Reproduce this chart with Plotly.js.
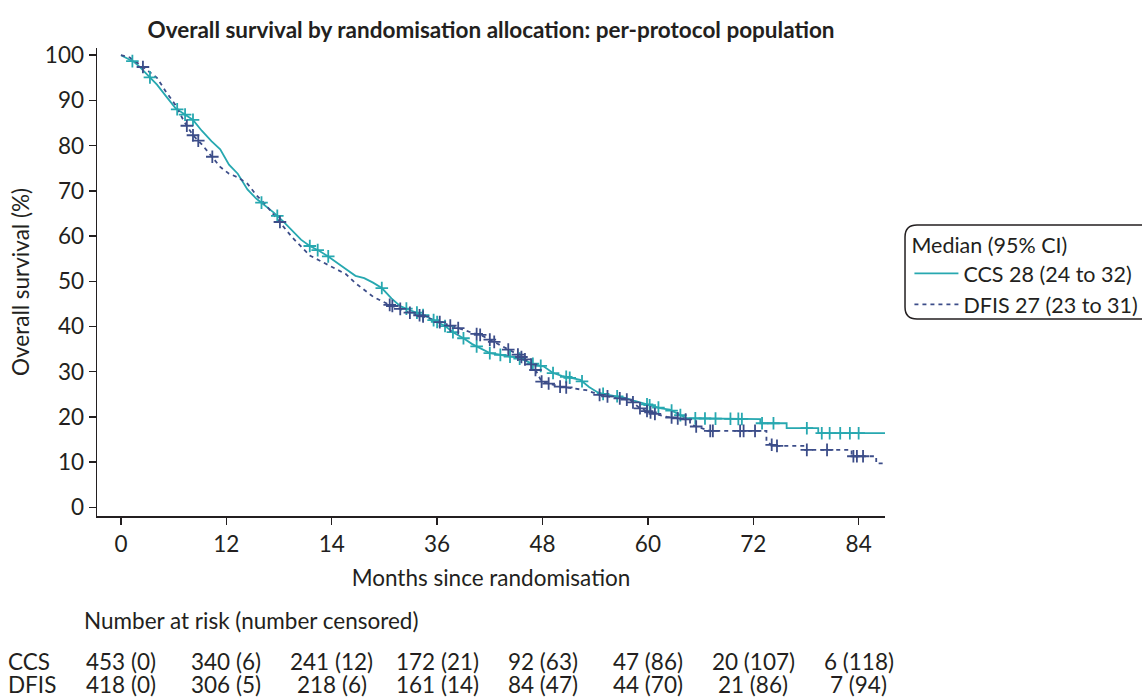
<!DOCTYPE html>
<html>
<head>
<meta charset="utf-8">
<script src="https://cdn.plot.ly/plotly-3.0.1.min.js"></script>
<style>
html,body{margin:0;padding:0;background:#fff;}
#chart{width:1142px;height:697px;}
</style>
</head>
<body>
<div id="chart"></div>
<script>
// ---- data ----
const tickMonths = [0, 12, 24, 36, 48, 60, 72, 84];
const tickLabels = ['0', '12', '14', '36', '48', '60', '72', '84'];

const ccsTime = [0, 1.0, 1.5, 2.1, 3.1, 4.1, 5.1, 6.2, 7.2, 8.2, 9.2, 10.3, 11.3, 12.3, 13.3, 14.4, 15.4, 16.4, 17.4, 18.5, 19.5, 20.5, 21.5, 22.6, 23.6, 24.6, 25.6, 26.7, 27.7, 28.7, 29.7, 30.8, 31.8, 32.8, 33.8, 34.9, 35.9, 36.9, 37.9, 39, 40, 41, 42, 43, 44.1, 45.1, 46.1, 47.1, 48.2, 49.2, 50.2, 51.2, 52.3, 53.3, 54.3, 55.3, 56.4, 57.4, 58.4, 59.4, 60.5, 61.5, 62.5, 63.5, 64.4, 72.8, 72.8, 75.8, 75.8, 79.4, 79.4, 87];
const ccsSurv = [100, 99, 98.5, 97.5, 95.5, 93.5, 91, 88.3, 87, 85.7, 83.3, 81, 79.2, 75.8, 73.8, 70.3, 68.3, 66.8, 65.2, 63.2, 61.2, 59.2, 57.8, 56.7, 55.5, 54.2, 52.7, 51.2, 50.7, 49.7, 48.5, 46.2, 44.5, 43.7, 43, 42.1, 41.1, 40.1, 38.6, 37.4, 36.1, 35.1, 34.1, 33.8, 33.4, 33.1, 32.4, 31.6, 31.1, 29.7, 29.1, 28.6, 28.2, 26.6, 25.4, 24.9, 24.6, 24.2, 23.6, 23.1, 22.4, 21.9, 21.6, 20.6, 19.7, 19.5, 18.6, 18.6, 17.5, 17.5, 16.4, 16.4];

const dfisTime = [0, 1.0, 2.1, 3.1, 4.1, 5.1, 6.2, 7.2, 8.2, 9.2, 10.3, 11.3, 12.3, 13.3, 14.4, 15.4, 16.4, 17.4, 18.5, 19.5, 20.5, 21.5, 22.6, 23.6, 24.6, 25.6, 26.7, 27.7, 28.7, 29.7, 30.8, 31.8, 32.8, 33.8, 34.9, 35.9, 36.9, 37.9, 39, 40, 41, 42, 43, 44.1, 45.1, 46.1, 47, 47.5, 47.9, 50, 53, 54.6, 58, 59.1, 60.7, 62.2, 64.8, 64.8, 65.6, 67.1, 73.5, 73.5, 74.3, 77.7, 77.7, 83.2, 83.2, 86, 86, 87];
const dfisSurv = [100, 99.5, 98, 96.5, 95, 92, 89, 85.3, 82.3, 80.3, 77.8, 75.3, 73.8, 73, 71.6, 69.1, 67.1, 64.7, 62.2, 59.7, 57.7, 55.7, 54.6, 53.6, 52.6, 51.6, 49.6, 48.1, 46.6, 45.6, 44.6, 43.9, 43.1, 42.6, 41.9, 41.2, 40.6, 39.9, 39.3, 38.6, 38.1, 37.1, 36.1, 34.9, 33.9, 32.6, 31.1, 29.3, 27.8, 26.7, 25.9, 24.8, 23.7, 21.9, 20.7, 20, 19.3, 18.4, 17.8, 16.9, 16.9, 14.5, 13.6, 13.6, 12.7, 12.7, 11.3, 11.3, 9.7, 9.7];

const ccsCensor = [1.3, 3.3, 6.4, 7.3, 8.2, 16, 17.8, 21.5, 22.4, 23.6, 29.7, 32.5, 33.7, 34.4, 35.6, 36, 36.9, 37.8, 39, 40.5, 42, 43.2, 44.3, 45.4, 46.9, 47.8, 49.2, 50.7, 51.1, 52.5, 54.9, 56.5, 59.9, 60.2, 61.2, 62.7, 63.7, 65.4, 66.5, 67.7, 69.4, 70.3, 70.7, 73, 74.3, 78.1, 79.8, 80.7, 81.9, 83, 84];
const dfisCensor = [2.5, 7.5, 8.2, 8.8, 10.4, 18.1, 30.6, 30.9, 31.8, 32.9, 34, 34.4, 36.3, 37.5, 38.4, 40.5, 40.9, 42, 42.5, 44.1, 45.2, 45.6, 46, 46.7, 47.2, 47.9, 48.7, 50, 50.7, 54.5, 55.4, 56.8, 57.6, 58.3, 59.1, 59.9, 60.3, 60.8, 62.7, 63.4, 64.3, 65.5, 67.1, 67.4, 70.5, 70.9, 72.2, 74.1, 74.7, 78.1, 80.4, 83.4, 83.8, 84.5];

const riskLabels = ['CCS', 'DFIS'];
const ccsRisk = ['453 (0)', '340 (6)', '241 (12)', '172 (21)', '92 (63)', '47 (86)', '20 (107)', '6 (118)'];
const dfisRisk = ['418 (0)', '306 (5)', '218 (6)', '161 (14)', '84 (47)', '44 (70)', '21 (86)', '7 (94)'];

const seriesNames = ['CCS 28 (24 to 32)', 'DFIS 27 (23 to 31)'];

// ---- styling ----
const TEAL = '#27a8b0';
const NAVY = '#3c4d89';
const FONT = 'Lato, "Open Sans", sans-serif';
const TXT = '#231f20';
const FS = 22.5;
const LFS = 21.5;

// position of a censor mark on its curve
function curveAt(times, surv, t) {
  for (let i = 0; i < times.length - 1; i++) {
    if (t >= times[i] && t <= times[i + 1]) {
      if (times[i + 1] === times[i]) return surv[i + 1];
      const f = (t - times[i]) / (times[i + 1] - times[i]);
      return surv[i] + f * (surv[i + 1] - surv[i]);
    }
  }
  return surv[surv.length - 1];
}

const traces = [
  {x: ccsTime, y: ccsSurv, mode: 'lines', line: {shape: 'linear', color: TEAL, width: 1.8},
   name: seriesNames[0], hoverinfo: 'skip'},
  {x: dfisTime, y: dfisSurv, mode: 'lines', line: {shape: 'linear', color: NAVY, width: 1.8, dash: '4px,4px'},
   name: seriesNames[1], hoverinfo: 'skip'},
  {x: ccsCensor, y: ccsCensor.map(t => curveAt(ccsTime, ccsSurv, t)), mode: 'markers',
   marker: {symbol: 'cross-thin', size: 9, line: {color: TEAL, width: 1.8}}, showlegend: false, hoverinfo: 'skip'},
  {x: dfisCensor, y: dfisCensor.map(t => curveAt(dfisTime, dfisSurv, t)), mode: 'markers',
   marker: {symbol: 'cross-thin', size: 9, line: {color: NAVY, width: 1.8}}, showlegend: false, hoverinfo: 'skip'}
];

const annotations = [];
annotations.push({xref: 'paper', yref: 'paper', x: -0.019, y: -0.224, xanchor: 'left', yanchor: 'middle',
  text: 'Number at risk (number censored)', showarrow: false, font: {family: FONT, size: FS, color: TXT}});
const rowY = [-0.31, -0.36];
[ccsRisk, dfisRisk].forEach((row, r) => {
  annotations.push({xref: 'paper', yref: 'paper', x: -0.115, y: rowY[r], xanchor: 'left', yanchor: 'middle',
    text: riskLabels[r], showarrow: false, font: {family: FONT, size: FS, color: TXT}});
  row.forEach((txt, i) => {
    annotations.push({xref: 'x', yref: 'paper', x: tickMonths[i], y: rowY[r], xanchor: 'center', yanchor: 'middle',
      text: txt, showarrow: false, font: {family: FONT, size: FS, color: TXT}});
  });
});

const layout = {
  width: 1142, height: 697,
  margin: {l: 97, r: 257, t: 48, b: 181, pad: 0, autoexpand: false},
  paper_bgcolor: '#fff', plot_bgcolor: '#fff',
  font: {family: FONT, size: FS, color: TXT},
  title: {text: '<b>Overall survival by randomisation allocation: per-protocol population</b>',
    x: 0.5, xref: 'paper', xanchor: 'center', y: 0.957, yref: 'container', yanchor: 'middle',
    font: {family: FONT, size: 22.5, color: TXT}},
  xaxis: {range: [-2.73, 87], tickmode: 'array', tickvals: tickMonths, ticktext: tickLabels,
    showline: true, linecolor: TXT, linewidth: 1.5, ticks: 'outside', ticklen: 7, tickwidth: 1.5, tickcolor: TXT,
    showgrid: false, zeroline: false, tickfont: {family: FONT, size: FS, color: TXT}, automargin: false,
    title: {text: 'Months since randomisation', standoff: 14, font: {family: FONT, size: FS, color: TXT}}},
  yaxis: {range: [-1.92, 101.6], tickmode: 'array', tickvals: [0,10,20,30,40,50,60,70,80,90,100],
    showline: true, linecolor: TXT, linewidth: 1.5, ticks: 'outside', ticklen: 7, tickwidth: 1.5, tickcolor: TXT,
    showgrid: false, zeroline: false, tickfont: {family: FONT, size: FS, color: TXT}, automargin: false,
    title: {text: 'Overall survival (%)', standoff: 9, font: {family: FONT, size: FS, color: TXT}}},
  showlegend: true,
  legend: {x: 1.031, xanchor: 'left', y: 0.6218, yanchor: 'top', bgcolor: 'rgba(0,0,0,0)', borderwidth: 0,
    title: {text: 'Median (95% CI)', font: {family: FONT, size: LFS, color: TXT}},
    font: {family: FONT, size: LFS, color: TXT}, tracegroupgap: 0, itemwidth: 44},
  shapes: [{type: 'path', xref: 'paper', yref: 'paper', xsizemode: 'pixel', ysizemode: 'pixel',
    xanchor: 1.0254, yanchor: 0.6218,
    path: 'M 12,0 L 260,0 L 260,-94 L 12,-94 Q 0,-94 0,-82 L 0,-12 Q 0,0 12,0 Z',
    line: {color: TXT, width: 1.5}, fillcolor: 'rgba(0,0,0,0)'}],
  annotations: annotations
};

Plotly.newPlot('chart', traces, layout, {staticPlot: true, displayModeBar: false});
</script>
</body>
</html>
